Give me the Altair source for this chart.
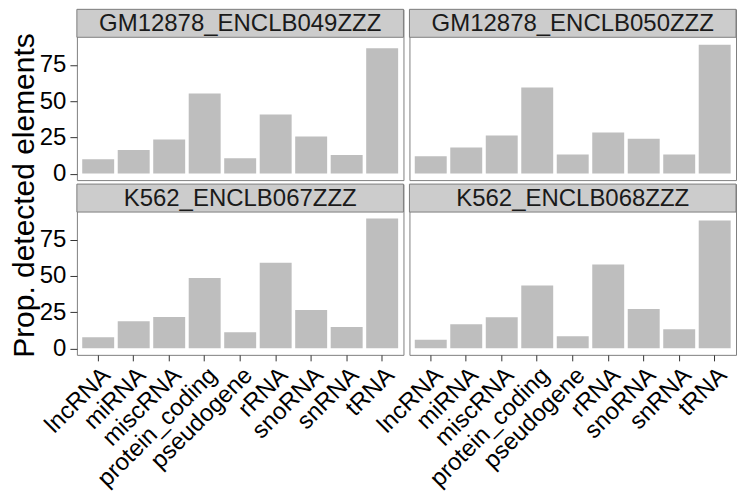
import altair as alt
import pandas as pd

panels = ["GM12878_ENCLB049ZZZ", "GM12878_ENCLB050ZZZ", "K562_ENCLB067ZZZ", "K562_ENCLB068ZZZ"]
types = ["lncRNA", "miRNA", "miscRNA", "protein_coding", "pseudogene", "rRNA", "snoRNA", "snRNA", "tRNA"]
vals_049 = [9.9, 16.2, 23.5, 55.2, 10.6, 40.8, 25.6, 12.9, 86.5]
vals_050 = [12.0, 18.0, 26.3, 59.3, 13.2, 28.4, 24.0, 13.2, 88.8]
vals_067 = [7.6, 18.7, 21.7, 48.5, 11.1, 59.1, 26.5, 14.8, 89.5]
vals_068 = [6.0, 16.6, 21.5, 43.4, 8.3, 57.9, 27.2, 13.2, 88.1]
y_ticks = [0, 25, 50, 75]
y_title = "Prop. detected elements"

all_vals = [vals_049, vals_050, vals_067, vals_068]

FONT = "Liberation Sans"
W = 327
H = 143
STRIP_H = 28
GAP_X = 6
GAP_Y = 4
BORDER = "#7F7F7F"
STRIP_FILL = "#CCCCCC"

vmax = max(max(v) for v in all_vals)
pad = 0.05 * vmax
y_domain = [-pad, vmax + pad]


def panel(name, vals, show_x, show_y, with_title=False):
    df = pd.DataFrame({"type": types, "value": vals})
    lab = pd.DataFrame({"label": [name]})
    strip_bg = (
        alt.Chart(lab)
        .mark_rect(fill=STRIP_FILL, stroke=BORDER, strokeWidth=1)
        .encode(
            x=alt.value(0),
            x2=alt.value(W),
            y=alt.value(0),
            y2=alt.value(STRIP_H),
        )
    )
    strip_text = (
        alt.Chart(lab)
        .mark_text(font=FONT, fontSize=24, color="#1A1A1A", baseline="middle", align="center")
        .encode(text="label:N", x=alt.value(W / 2), y=alt.value(STRIP_H / 2 + 1))
    )
    x_axis = (
        alt.Axis(
            title=None,
            labelAngle=-45,
            labelAlign="right",
            labelBaseline="top",
            labelFont=FONT,
            labelFontSize=24,
            labelColor="#000000",
            tickColor="#333333",
            tickSize=6,
            labelPadding=2,
            domain=False,
            grid=False,
        )
        if show_x
        else None
    )
    if show_y:
        y_kwargs = dict(
            values=y_ticks,
            labelFont=FONT,
            labelFontSize=24,
            labelColor="#000000",
            tickColor="#333333",
            tickSize=7,
            labelPadding=4,
            domain=False,
            grid=False,
        )
        if with_title:
            top_plot = -(STRIP_H + H + GAP_Y) + STRIP_H
            bottom_plot = STRIP_H + H
            y_kwargs.update(
                title=y_title,
                titleFont=FONT,
                titleFontSize=30,
                titleFontWeight="normal",
                titleColor="#000000",
                titlePadding=0,
                titleY=(top_plot + bottom_plot) / 2 - 1,
            )
        else:
            y_kwargs.update(title=None)
        y_axis = alt.Axis(**y_kwargs)
    else:
        y_axis = None
    bars = (
        alt.Chart(df)
        .mark_bar(color="#BEBEBE")
        .encode(
            x=alt.X(
                "type:N",
                sort=types,
                axis=x_axis,
                scale=alt.Scale(paddingInner=0.1, paddingOuter=0.15),
            ),
            y=alt.Y(
                "value:Q",
                axis=y_axis,
                scale=alt.Scale(
                    domain=y_domain, nice=False, zero=False, range=[STRIP_H + H, STRIP_H]
                ),
            ),
            y2=alt.datum(0),
        )
    )
    return alt.layer(bars, strip_bg, strip_text).properties(
        width=W,
        height=STRIP_H + H,
        view=alt.ViewBackground(fill="white", stroke=BORDER, strokeWidth=1),
    )


chart = (
    alt.concat(
        panel(panels[0], vals_049, False, True),
        panel(panels[1], vals_050, False, False),
        panel(panels[2], vals_067, True, True, with_title=True),
        panel(panels[3], vals_068, True, False),
        columns=2,
        spacing=alt.RowColnumber(row=GAP_Y, column=GAP_X),
        bounds="flush",
    )
    .properties(padding=0)
    .configure_view(stroke="transparent")
)

chart.save("out.html", embed_options={"renderer": "svg", "actions": False})
